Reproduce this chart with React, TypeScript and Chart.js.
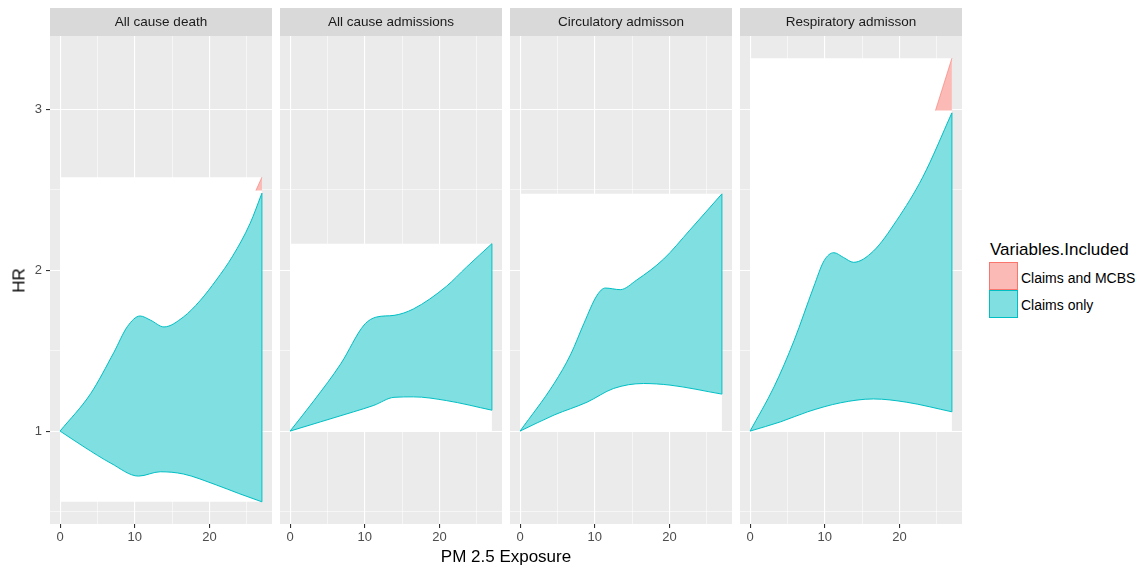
import React, { useEffect, useRef } from "react";
import { Chart, registerables } from "chart.js";

Chart.register(...registerables);

type Pt = [number, number];

const FONT = '"Liberation Sans", Arial, Helvetica, sans-serif';

// ---------- text ----------
const panelTitles = [
  "All cause death",
  "All cause admissions",
  "Circulatory admisson",
  "Respiratory admisson",
];
const seriesNames = ["Claims and MCBS", "Claims only"];
const legendTitle = "Variables.Included";
const xAxisTitle = "PM 2.5 Exposure";
const yAxisTitle = "HR";
const xTickValues = [0, 10, 20];
const yTickValues = [1, 2, 3];

// ---------- data: Claims only ribbon (x = PM 2.5, y = HR) ----------
const deathLower: Pt[] = [[0, 1], [3.2, 0.902], [6.8, 0.8], [10.5, 0.72], [13.4, 0.747], [16.5, 0.733], [20.9, 0.665], [23.9, 0.612], [27, 0.56]];
const deathUpper: Pt[] = [[0, 1], [4.1, 1.234], [7.2, 1.49], [9.0, 1.65], [10.7, 1.716], [12.1, 1.69], [13.9, 1.648], [16.5, 1.71], [18.7, 1.81], [20.9, 1.94], [23.1, 2.09], [25.4, 2.29], [27, 2.48]];

const admLower: Pt[] = [[0, 1], [4.1, 1.058], [8.5, 1.12], [11.2, 1.16], [13.9, 1.21], [16.5, 1.213], [20.9, 1.19], [27, 1.13]];
const admUpper: Pt[] = [[0, 1], [3.2, 1.19], [6.8, 1.42], [9.9, 1.66], [11.6, 1.71], [13.9, 1.72], [16.5, 1.76], [20.9, 1.9], [23.6, 2.02], [27, 2.166]];

const circLower: Pt[] = [[0, 1], [4.55, 1.1], [8.96, 1.18], [12.5, 1.265], [16.5, 1.296], [20.05, 1.286], [27, 1.23]];
const circUpper: Pt[] = [[0, 1], [4.55, 1.296], [6.8, 1.48], [8.54, 1.67], [10.3, 1.845], [11.4, 1.89], [13.4, 1.88], [15.6, 1.94], [19.2, 2.07], [22.7, 2.25], [27, 2.476]];

const respLower: Pt[] = [[0, 1], [4.1, 1.058], [7.7, 1.12], [12.1, 1.176], [16.5, 1.2], [20.9, 1.18], [27, 1.12]];
const respUpper: Pt[] = [[0, 1], [3.2, 1.275], [5.9, 1.565], [8.5, 1.896], [9.9, 2.06], [11.2, 2.11], [12.5, 2.08], [13.85, 2.05], [16.5, 2.12], [19.6, 2.31], [23.1, 2.58], [27, 2.98]];

// ---------- data: Claims and MCBS ribbon (visible part) ----------
const deathMcbsLower: Pt[] = [[26.2, 2.497], [27, 2.497]];
const deathMcbsUpper: Pt[] = [[26.2, 2.497], [27, 2.58]];
const admMcbsLower: Pt[] = [];
const admMcbsUpper: Pt[] = [];
const circMcbsLower: Pt[] = [];
const circMcbsUpper: Pt[] = [];
const respMcbsLower: Pt[] = [[24.8, 2.994], [27, 2.994]];
const respMcbsUpper: Pt[] = [[24.8, 2.994], [27, 3.32]];

const panels = [
  { lower: deathLower, upper: deathUpper, mLower: deathMcbsLower, mUpper: deathMcbsUpper },
  { lower: admLower, upper: admUpper, mLower: admMcbsLower, mUpper: admMcbsUpper },
  { lower: circLower, upper: circUpper, mLower: circMcbsLower, mUpper: circMcbsUpper },
  { lower: respLower, upper: respUpper, mLower: respMcbsLower, mUpper: respMcbsUpper },
];

// shared scale domains (ggplot-like 5% expansion)
const allPts: Pt[] = panels.flatMap((p) => [...p.lower, ...p.upper, ...p.mLower, ...p.mUpper]);
const yLo = Math.min(...allPts.map((d) => d[1]));
const yHi = Math.max(...allPts.map((d) => d[1]));
const xLo = Math.min(...allPts.map((d) => d[0]));
const xHi = Math.max(...allPts.map((d) => d[0]));
const yPad = (yHi - yLo) * 0.05;
const xPad = (xHi - xLo) * 0.05;

const TEAL = "#00BFC4";
const TEAL_FILL = "rgba(0,191,196,0.5)";
const RED = "#F8766D";
const RED_FILL = "rgba(248,118,109,0.5)";

const toXY = (a: Pt[]) => a.map(([x, y]) => ({ x, y }));

function Panel({ index }: { index: number }) {
  const ref = useRef<HTMLCanvasElement>(null);
  const first = index === 0;
  const width = first ? 272 : 222;
  const left = first ? 0 : 280 + 230 * (index - 1);

  useEffect(() => {
    const p = panels[index];
    const pts = [...p.lower, ...p.upper, ...p.mLower, ...p.mUpper];
    const bMin = Math.min(...pts.map((d) => d[1]));
    const bMax = Math.max(...pts.map((d) => d[1]));
    const bx0 = Math.min(...pts.map((d) => d[0]));
    const bx1 = Math.max(...pts.map((d) => d[0]));
    const lastL = p.lower[p.lower.length - 1];
    const lastU = p.upper[p.upper.length - 1];
    const title = panelTitles[index];

    const bgPlugin = {
      id: "panelBg",
      beforeDraw(chart: any) {
        const { ctx, chartArea: a } = chart;
        ctx.save();
        ctx.fillStyle = "#EBEBEB";
        ctx.fillRect(a.left, a.top, a.right - a.left, a.bottom - a.top);
        ctx.fillStyle = "#D9D9D9";
        ctx.fillRect(a.left, 8, a.right - a.left, a.top - 8);
        ctx.fillStyle = "#1A1A1A";
        ctx.font = `13.5px ${FONT}`;
        ctx.textAlign = "center";
        ctx.textBaseline = "middle";
        ctx.fillText(title, (a.left + a.right) / 2, (8 + a.top) / 2 + 0.5);
        ctx.restore();
      },
    };

    const line = { pointRadius: 0, pointHoverRadius: 0 };

    const chart = new Chart(ref.current!, {
      type: "line",
      data: {
        datasets: [
          { ...line, data: [{ x: bx0, y: bMin }, { x: bx1, y: bMin }], borderWidth: 0, borderColor: "rgba(0,0,0,0)", fill: false, order: 10 },
          { ...line, data: [{ x: bx0, y: bMax }, { x: bx1, y: bMax }], borderWidth: 0, borderColor: "rgba(0,0,0,0)", backgroundColor: "#FFFFFF", fill: "-1", order: 9 },
          { ...line, label: seriesNames[0], data: toXY(p.mLower), borderWidth: 0, borderColor: "rgba(0,0,0,0)", fill: false, order: 8 },
          { ...line, label: seriesNames[0], data: toXY(p.mUpper), borderWidth: 0.6, borderColor: RED, backgroundColor: RED_FILL, fill: "-1", order: 7 },
          { ...line, label: seriesNames[1], data: toXY(p.lower), borderWidth: 1, borderColor: TEAL, fill: false, cubicInterpolationMode: "monotone", order: 5 },
          { ...line, label: seriesNames[1], data: toXY(p.upper), borderWidth: 1, borderColor: TEAL, backgroundColor: TEAL_FILL, fill: "-1", cubicInterpolationMode: "monotone", order: 6 },
          { ...line, label: seriesNames[1], data: [{ x: lastL[0], y: lastL[1] }, { x: lastU[0], y: lastU[1] }], borderWidth: 1, borderColor: TEAL, fill: false, order: 4 },
        ],
      } as any,
      options: {
        animation: false,
        responsive: false,
        events: [],
        layout: { padding: { top: 36, left: 0, right: 0, bottom: 0 }, autoPadding: false } as any,
        plugins: { legend: { display: false }, tooltip: { enabled: false }, title: { display: false } },
        scales: {
          x: {
            type: "linear",
            min: xLo - xPad,
            max: xHi + xPad,
            border: { display: false },
            ticks: {
              stepSize: 5,
              includeBounds: false,
              autoSkip: false,
              maxRotation: 0,
              padding: 2,
              color: "#4D4D4D",
              font: { family: FONT, size: 13 },
              callback: (v: any) => (xTickValues.includes(Number(v)) ? String(v) : ""),
            },
            grid: {
              color: "#FFFFFF",
              lineWidth: (c: any) => (c.tick && c.tick.value % 10 === 0 ? 1.1 : 0.55),
              tickLength: 4,
              tickWidth: 1.1,
              tickColor: (c: any) => (c.tick && xTickValues.includes(c.tick.value) ? "#333333" : "rgba(0,0,0,0)"),
            },
            afterFit: (s: any) => {
              s.height = 44;
            },
          },
          y: {
            type: "linear",
            min: yLo - yPad,
            max: yHi + yPad,
            border: { display: false },
            ticks: {
              display: first,
              stepSize: 0.5,
              includeBounds: false,
              autoSkip: false,
              padding: 4,
              color: "#4D4D4D",
              font: { family: FONT, size: 13 },
              callback: (v: any) => (yTickValues.includes(Number(v)) ? String(v) : ""),
            },
            grid: {
              color: "#FFFFFF",
              lineWidth: (c: any) => (c.tick && Number.isInteger(c.tick.value) ? 1.1 : 0.55),
              drawTicks: first,
              tickLength: 4,
              tickWidth: 1.1,
              tickColor: (c: any) => (c.tick && yTickValues.includes(c.tick.value) ? "#333333" : "rgba(0,0,0,0)"),
            },
            afterFit: (s: any) => {
              s.width = first ? 50 : 0;
            },
          },
        },
      } as any,
      plugins: [bgPlugin],
    });
    return () => chart.destroy();
  }, [index]);

  return (
    <canvas
      ref={ref}
      width={width}
      height={568}
      style={{ position: "absolute", left, top: 0, width, height: 568 }}
    />
  );
}

export default function App() {
  const txt: React.CSSProperties = { position: "absolute", fontFamily: FONT, color: "#000", whiteSpace: "nowrap" };
  return (
    <div style={{ position: "absolute", left: 0, top: 0, width: 1141, height: 568, background: "#FFFFFF", overflow: "hidden" }}>
      {panels.map((_, i) => (
        <Panel key={i} index={i} />
      ))}
      <div style={{ ...txt, left: 306, width: 400, top: 548, fontSize: 17, lineHeight: "17px", textAlign: "center" }}>{xAxisTitle}</div>
      <div
        style={{
          ...txt,
          left: 18.5 - 30,
          top: 280 - 8.5,
          width: 60,
          fontSize: 17,
          lineHeight: "17px",
          textAlign: "center",
          transform: "rotate(-90deg)",
        }}
      >
        {yAxisTitle}
      </div>
      <div style={{ ...txt, left: 990, top: 240.6, fontSize: 17, lineHeight: "17px" }}>{legendTitle}</div>
      <div style={{ position: "absolute", left: 989, top: 262, width: 29, height: 28, boxSizing: "border-box", background: RED_FILL, border: `1px solid ${RED}` }} />
      <div style={{ position: "absolute", left: 989, top: 290, width: 29, height: 28, boxSizing: "border-box", background: TEAL_FILL, border: `1px solid ${TEAL}` }} />
      <div style={{ ...txt, left: 1021, top: 271, fontSize: 14, lineHeight: "14px" }}>{seriesNames[0]}</div>
      <div style={{ ...txt, left: 1021, top: 297.5, fontSize: 14, lineHeight: "14px" }}>{seriesNames[1]}</div>
    </div>
  );
}
